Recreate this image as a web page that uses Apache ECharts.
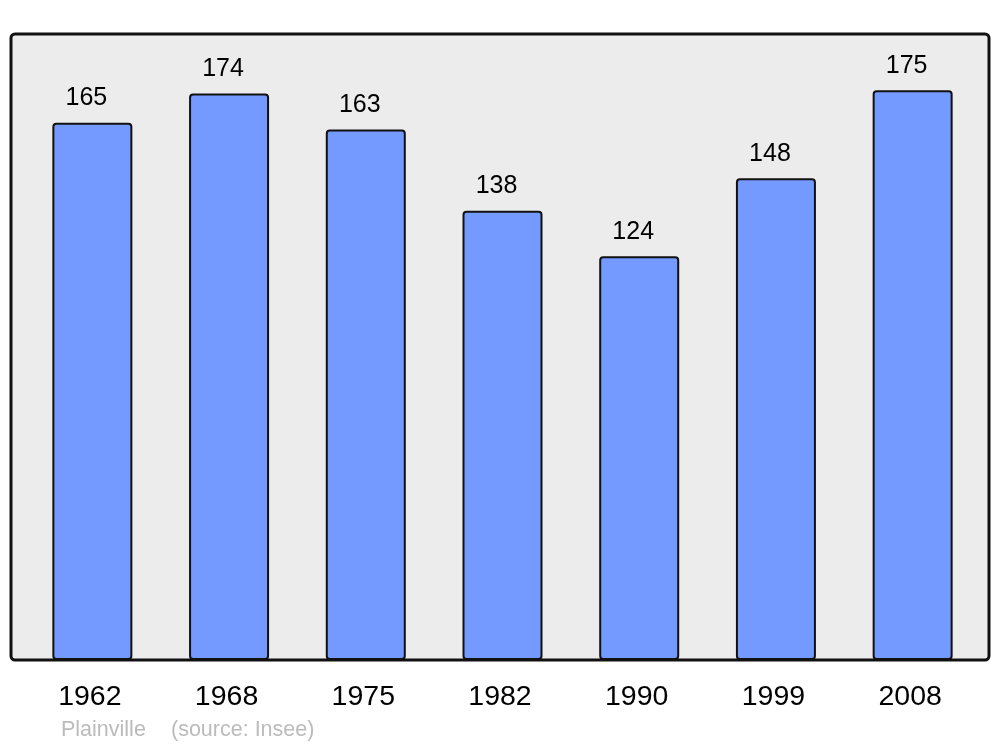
<!DOCTYPE html>
<html>
<head>
<meta charset="utf-8">
<script src="https://cdn.jsdelivr.net/npm/echarts@6/dist/echarts.min.js"></script>
<style>
  html, body { margin: 0; padding: 0; background: #fff; }
  #chart { width: 1000px; height: 747px; }
</style>
</head>
<body>
<div id="chart"></div>
<script>
// population par recensement
const years = ['1962', '1968', '1975', '1982', '1990', '1999', '2008']
const population = [165, 174, 163, 138, 124, 148, 175]
const townName = 'Plainville'
const sourceText = '(source: Insee)'

const chart = echarts.init(document.getElementById('chart'))

const options = {
  animation: false,
  textStyle: { fontFamily: 'Liberation Sans, Arial, sans-serif' },
  graphic: [
    { // cadre gris
      type: 'rect',
      z: -1,
      shape: { x: 11, y: 34, width: 978, height: 626, r: 4 },
      style: { fill: '#ececec', stroke: '#111', lineWidth: 3 }
    },
    {
      type: 'text',
      left: 61,
      top: 719,
      style: { text: townName, fill: '#bbbbbb', font: '21.5px "Liberation Sans", Arial, sans-serif' }
    },
    {
      type: 'text',
      left: 171,
      top: 719,
      style: { text: sourceText, fill: '#bbbbbb', font: '21.5px "Liberation Sans", Arial, sans-serif' }
    }
  ],
  grid: {
    left: 24,
    right: 19,
    top: 34,
    bottom: 87,
    containLabel: false
  },
  xAxis: {
    type: 'category',
    data: years,
    axisLine: { show: false },
    axisTick: { show: false },
    axisLabel: {
      color: '#000',
      fontSize: 28.5,
      margin: 23,
      padding: [0, 5, 0, 0]
    }
  },
  yAxis: {
    type: 'value',
    min: 0,
    max: 192.3,
    show: false,
    splitLine: { show: false }
  },
  series: [
    {
      type: 'bar',
      data: population,
      barWidth: 80,
      itemStyle: {
        color: '#7499ff',
        borderColor: '#111',
        borderWidth: 2,
        borderRadius: 3
      },
      label: {
        show: true,
        position: 'top',
        distance: 12,
        offset: [-6, 0],
        color: '#000',
        fontSize: 25
      }
    }
  ]
}

chart.setOption(options)
</script>
</body>
</html>
